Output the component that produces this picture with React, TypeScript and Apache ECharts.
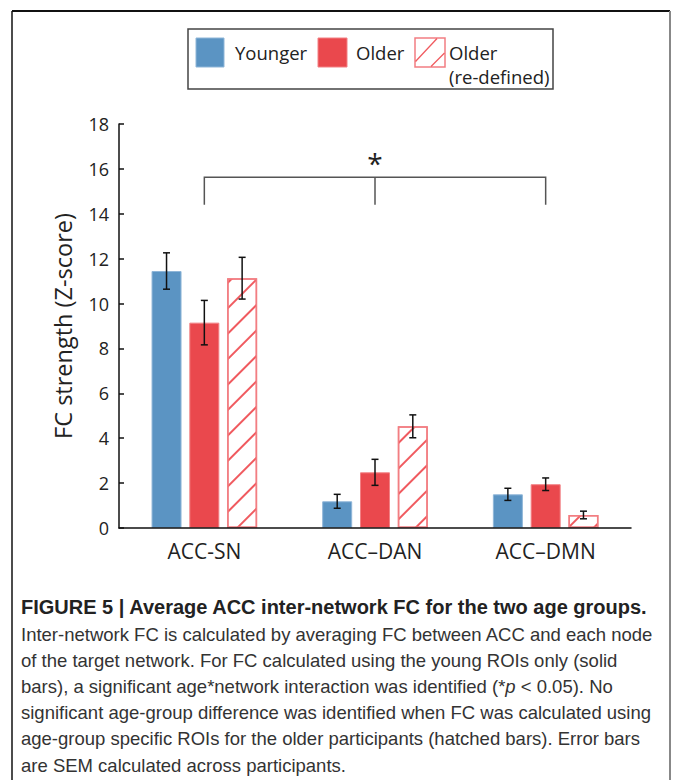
import React, { useEffect, useRef } from "react";
import * as echarts from "echarts";

const categories = ["ACC-SN", "ACC\u2013DAN", "ACC\u2013DMN"];
const younger = [11.45, 1.19, 1.5];
const older = [9.15, 2.48, 1.95];
const olderRedefined = [11.13, 4.53, 0.58];
const youngerSem = [0.81, 0.31, 0.27];
const olderSem = [0.99, 0.58, 0.28];
const olderRedefinedSem = [0.93, 0.51, 0.17];
const seriesNames = ["Younger", "Older", "Older (re-defined)"];
const yMin = 0;
const yMax = 18;
const yInterval = 2;
// significance bracket: [fromCategory, toCategory, bracketY, dropY, starY]
const bracket = [[0, 2, 15.63, 14.4, 16.9]];
const captionTitle = "FIGURE 5 | Average ACC inter-network FC for the two age groups.";
const captionLines = [
  "Inter-network FC is calculated by averaging FC between ACC and each node",
  "of the target network. For FC calculated using the young ROIs only (solid",
  "bars), a significant age*network interaction was identified (*{i|p} < 0.05). No",
  "significant age-group difference was identified when FC was calculated using",
  "age-group specific ROIs for the older participants (hatched bars). Error bars",
  "are SEM calculated across participants.",
];

const BLUE = "#5b94c3";
const RED = "#ea484d";
const HATCH = "#f05a5f";
const BAR_W = 30;
const BAR_GAP_PX = 7.8;
const FONT = "'Open Sans', sans-serif";
const CAP_FONT = "'Liberation Sans', Arial, sans-serif";

function errorSeries(means: number[], sems: number[], idx: number) {
  const offset = (idx - 1) * (BAR_W + BAR_GAP_PX);
  return {
    type: "custom",
    z: 5,
    silent: true,
    encode: { x: 0, y: 1 },
    data: means.map((m, i) => [i, m, sems[i]]),
    renderItem: (params: any, api: any) => {
      const c = api.value(0);
      const m = api.value(1);
      const s = api.value(2);
      const x = api.coord([c, m])[0] + offset;
      const yt = api.coord([c, m + s])[1];
      const yb = api.coord([c, m - s])[1];
      const cap = 3.5;
      const st = { stroke: "#111", lineWidth: 1.5 };
      return {
        type: "group",
        children: [
          { type: "line", shape: { x1: x, y1: yt, x2: x, y2: yb }, style: st },
          { type: "line", shape: { x1: x - cap, y1: yt, x2: x + cap, y2: yt }, style: st },
          { type: "line", shape: { x1: x - cap, y1: yb, x2: x + cap, y2: yb }, style: st },
        ],
      };
    },
  };
}

export default function App() {
  const ref = useRef<HTMLDivElement>(null);
  useEffect(() => {
    if (!ref.current) return;
    const chart = echarts.init(ref.current, null, { renderer: "svg" });
    const capChildren: any[] = [
      {
        type: "text",
        x: 21,
        y: 607,
        style: {
          text: captionTitle,
          font: `bold 20px ${CAP_FONT}`,
          fill: "#222",
          verticalAlign: "middle",
        },
      },
      ...captionLines.map((t, i) => ({
        type: "text",
        x: 21,
        y: 634 + i * 26.2,
        style: {
          text: t,
          font: `18.5px ${CAP_FONT}`,
          fill: "#333",
          verticalAlign: "middle",
          rich: { i: { fontStyle: "italic", fontSize: 18.5, fontFamily: CAP_FONT, fill: "#333" } },
        },
      })),
    ];
    const legendText = (t: string, x: number, y: number) => ({
      type: "text",
      x,
      y,
      style: { text: t, font: `18.5px ${FONT}`, fill: "#222", verticalAlign: "middle" },
    });
    const option: any = {
      animation: false,
      grid: { left: 119, top: 124, width: 512, height: 404, containLabel: false },
      xAxis: {
        type: "category",
        data: categories,
        z: 6,
        axisLine: { lineStyle: { color: "#111", width: 1.5 } },
        axisTick: { inside: true, length: 6, alignWithLabel: true, lineStyle: { color: "#111", width: 1.5 } },
        axisLabel: { fontSize: 21, color: "#222", margin: 12, fontFamily: FONT },
      },
      yAxis: {
        type: "value",
        min: yMin,
        max: yMax,
        interval: yInterval,
        name: "FC strength (Z-score)",
        nameLocation: "middle",
        nameGap: 44,
        nameTextStyle: { fontSize: 23.5, color: "#222", fontFamily: FONT },
        axisLine: { show: true, lineStyle: { color: "#111", width: 1.5 } },
        axisTick: { show: true, inside: true, length: 5, lineStyle: { color: "#111", width: 1.5 } },
        splitLine: { show: false },
        axisLabel: { fontSize: 18, color: "#222", margin: 10, fontFamily: FONT },
      },
      series: [
        {
          name: seriesNames[0],
          type: "bar",
          data: younger,
          barWidth: BAR_W,
          barGap: `${(BAR_GAP_PX / BAR_W) * 100}%`,
          itemStyle: { color: BLUE, borderColor: "#8fb6d8", borderWidth: 1 },
        },
        {
          name: seriesNames[1],
          type: "bar",
          data: older,
          barWidth: BAR_W,
          barGap: `${(BAR_GAP_PX / BAR_W) * 100}%`,
          itemStyle: { color: RED, borderColor: "#f28084", borderWidth: 1 },
        },
        {
          name: seriesNames[2],
          type: "bar",
          data: olderRedefined,
          barWidth: BAR_W,
          barGap: `${(BAR_GAP_PX / BAR_W) * 100}%`,
          itemStyle: {
            color: "#ffffff",
            borderColor: "#f27e82",
            borderWidth: 1.5,
            decal: {
              symbol: "rect",
              symbolSize: 1,
              color: HATCH,
              dashArrayX: [1, 0],
              dashArrayY: [1.5, 15.5],
              rotation: -Math.PI / 4,
            },
          },
        },
        errorSeries(younger, youngerSem, 0),
        errorSeries(older, olderSem, 1),
        errorSeries(olderRedefined, olderRedefinedSem, 2),
        {
          type: "custom",
          silent: true,
          z: 5,
          encode: { x: [0, 1], y: [2, 3, 4] },
          data: bracket,
          renderItem: (params: any, api: any) => {
            const from = api.value(0);
            const to = api.value(1);
            const by = api.value(2);
            const dy = api.value(3);
            const sy = api.value(4);
            const mid = Math.round((from + to) / 2);
            const p0 = api.coord([from, by]);
            const p1 = api.coord([to, by]);
            const pm = api.coord([mid, by]);
            const yDrop = api.coord([from, dy])[1];
            const yStar = api.coord([mid, sy])[1];
            const st = { stroke: "#555", lineWidth: 1.5, fill: "none" };
            return {
              type: "group",
              children: [
                {
                  type: "polyline",
                  shape: { points: [[p0[0], yDrop], [p0[0], p0[1]], [p1[0], p1[1]], [p1[0], yDrop]] },
                  style: st,
                },
                { type: "line", shape: { x1: pm[0], y1: pm[1], x2: pm[0], y2: yDrop }, style: st },
                {
                  type: "text",
                  x: pm[0],
                  y: yStar,
                  style: {
                    text: "*",
                    font: `28px ${FONT}`,
                    fill: "#222",
                    align: "center",
                    verticalAlign: "top",
                  },
                },
              ],
            };
          },
        },
      ],
      graphic: [
        // figure frame
        { type: "line", shape: { x1: 12, y1: 11, x2: 670, y2: 11 }, style: { stroke: "#111", lineWidth: 2 } },
        { type: "line", shape: { x1: 12, y1: 11, x2: 12, y2: 780 }, style: { stroke: "#111", lineWidth: 1.5 } },
        { type: "line", shape: { x1: 670, y1: 11, x2: 670, y2: 780 }, style: { stroke: "#888", lineWidth: 2 } },
        // legend
        { type: "rect", shape: { x: 188, y: 29, width: 365, height: 60 }, style: { fill: "#fff", stroke: "#444", lineWidth: 1.5 } },
        { type: "rect", shape: { x: 196, y: 38, width: 28, height: 29 }, style: { fill: BLUE, stroke: "#8fb6d8", lineWidth: 1 } },
        legendText(seriesNames[0], 235, 52),
        { type: "rect", shape: { x: 318, y: 38, width: 29, height: 29 }, style: { fill: RED, stroke: "#f28084", lineWidth: 1 } },
        legendText(seriesNames[1], 356, 52),
        { type: "rect", shape: { x: 415, y: 38, width: 30, height: 29 }, style: { fill: "#fff", stroke: "#f27e82", lineWidth: 1.5 } },
        { type: "line", shape: { x1: 415.5, y1: 61.5, x2: 437, y2: 38.5 }, style: { stroke: HATCH, lineWidth: 1.3 } },
        { type: "line", shape: { x1: 431, y1: 66.5, x2: 444.5, y2: 53 }, style: { stroke: HATCH, lineWidth: 1.3 } },
        legendText("Older", 449, 52),
        legendText("(re-defined)", 449, 76),
        ...capChildren,
      ],
    };
    chart.setOption(option);
    return () => chart.dispose();
  }, []);
  return (
    <div
      ref={ref}
      style={{ position: "absolute", left: 0, top: 0, width: 674, height: 780, background: "#fff" }}
    />
  );
}
